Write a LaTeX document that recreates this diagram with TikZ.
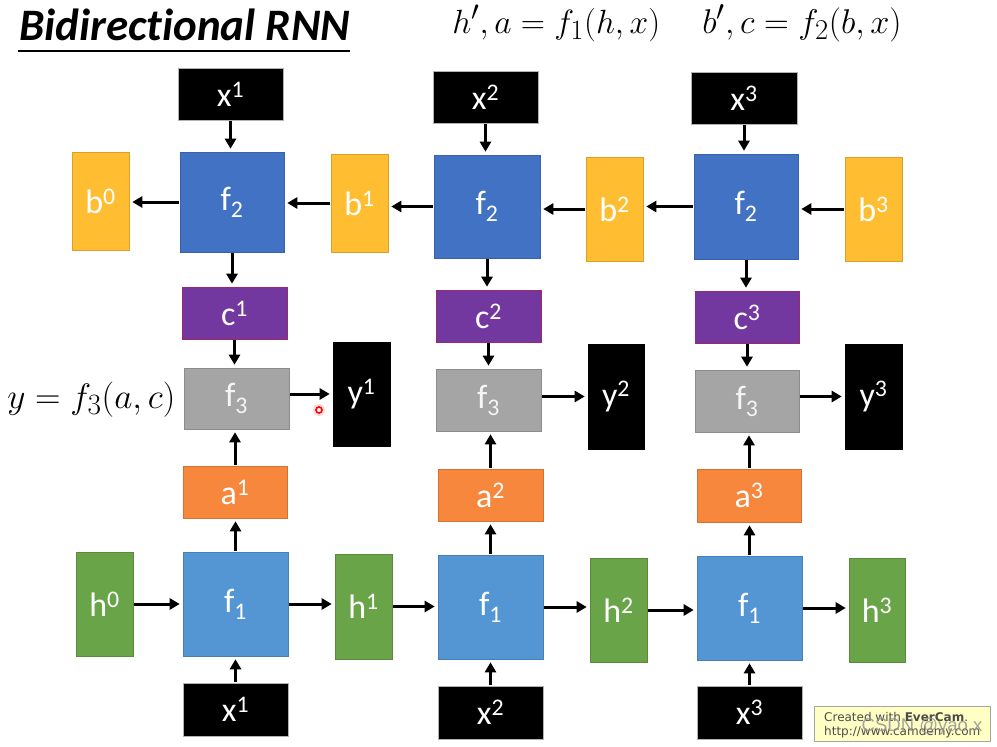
\documentclass[tikz,border=0pt]{standalone}
\usepackage[no-math]{fontspec}
\setmainfont{Carlito}[Ligatures=NoCommon]
\newfontfamily\wmfont{DejaVu Sans}
\newfontfamily\csdnfont{Liberation Sans}
\usetikzlibrary{arrows.meta}
\definecolor{ftwoc}{RGB}{66,114,196}
\definecolor{fonec}{RGB}{84,150,212}
\definecolor{fthreec}{RGB}{165,165,165}
\definecolor{bcol}{RGB}{255,190,50}
\definecolor{ccol}{RGB}{115,56,160}
\definecolor{acol}{RGB}{247,135,60}
\definecolor{hcol}{RGB}{106,164,72}
\definecolor{wmyellow}{RGB}{255,255,196}
\newcommand\boxfont{\fontsize{34}{34}\selectfont}
\newcommand\eqfont{\fontsize{24.88}{28}\selectfont}
\tikzset{
  cell/.style={rectangle, inner sep=0pt, line width=0.6pt, text=white, font=\boxfont},
  blk/.style={cell, fill=black, draw=gray!60},
  yblk/.style={cell, fill=black, draw=black},
  ftwo/.style={cell, fill=ftwoc, draw=ftwoc!85!black},
  fone/.style={cell, fill=fonec, draw=fonec!85!black},
  fthree/.style={cell, fill=fthreec, draw=fthreec!85!black, text=gray!8},
  bst/.style={cell, fill=bcol, draw=bcol!85!black},
  cst/.style={cell, fill=ccol, draw=ccol!70!red},
  ast/.style={cell, fill=acol, draw=acol!85!black},
  hst/.style={cell, fill=hcol, draw=hcol!85!black},
  eq/.style={anchor=base west, inner sep=0pt, font=\eqfont},
  arr/.style={line width=3pt, -{Triangle[length=10pt,width=11pt]}, shorten >=3pt, shorten <=1pt},
}
\begin{document}
\begin{tikzpicture}[x=1pt,y=-1pt]
\useasboundingbox (0,0) rectangle (997,747);
\fill[white] (0,0) rectangle (997,747);
% title and formulas
\node[anchor=base west, inner sep=0pt, font=\fontsize{45}{45}\selectfont\bfseries\itshape] (title) at (19,40) {Bidirectional RNN};
\draw[line width=2pt] (18,51) -- (350,51);
\node[eq, scale=1.35] (eqone) at (452,33) {$h', a = f_1(h, x)$};
\node[eq, scale=1.38] (eqtwo) at (702,33) {$b', c = f_2(b, x)$};
\node[eq, scale=1.42] (eqthree) at (7,408) {$y = f_3(a, c)$};
% column 1
\node[blk, minimum width=105pt, minimum height=52pt] (xt1) at (230.5,94) {x\textsuperscript{1}};
\node[ftwo, minimum width=104pt, minimum height=100pt] (ft1) at (232,202) {f\textsubscript{2}};
\node[cst, minimum width=105pt, minimum height=52pt] (c1) at (234.5,313) {c\textsuperscript{1}};
\node[fthree, minimum width=105pt, minimum height=61pt] (fh1) at (236.5,398.5) {f\textsubscript{3}};
\node[ast, minimum width=104pt, minimum height=52pt] (a1) at (235,492) {a\textsuperscript{1}};
\node[fone, minimum width=105pt, minimum height=104pt] (fo1) at (235.5,604) {f\textsubscript{1}};
\node[blk, minimum width=105pt, minimum height=53pt] (xb1) at (235.5,709.5) {x\textsuperscript{1}};
\node[bst, minimum width=57pt, minimum height=98pt] (b0) at (100.5,201) {b\textsuperscript{0}};
\node[bst, minimum width=57pt, minimum height=98pt] (b1) at (359.5,203) {b\textsuperscript{1}};
\node[yblk, minimum width=57pt, minimum height=104pt] (y1) at (361.5,394) {y\textsuperscript{1}};
\node[hst, minimum width=57pt, minimum height=104pt] (h0) at (104.5,604) {h\textsuperscript{0}};
\node[hst, minimum width=57pt, minimum height=105pt] (h1) at (363.5,606.5) {h\textsuperscript{1}};
% column 2
\node[blk, minimum width=105pt, minimum height=52pt] (xt2) at (485.5,97) {x\textsuperscript{2}};
\node[ftwo, minimum width=106pt, minimum height=103pt] (ft2) at (487,206.5) {f\textsubscript{2}};
\node[cst, minimum width=105pt, minimum height=52pt] (c2) at (488.5,316) {c\textsuperscript{2}};
\node[fthree, minimum width=105pt, minimum height=62pt] (fh2) at (488.5,400) {f\textsubscript{3}};
\node[ast, minimum width=105pt, minimum height=52pt] (a2) at (490.5,495) {a\textsuperscript{2}};
\node[fone, minimum width=105pt, minimum height=104pt] (fo2) at (490.5,607) {f\textsubscript{1}};
\node[blk, minimum width=105pt, minimum height=53pt] (xb2) at (490.5,712.5) {x\textsuperscript{2}};
\node[bst, minimum width=57pt, minimum height=104pt] (b2) at (614.5,209) {b\textsuperscript{2}};
\node[yblk, minimum width=56pt, minimum height=105pt] (y2) at (616,396.5) {y\textsuperscript{2}};
\node[hst, minimum width=57pt, minimum height=104pt] (h2) at (618.5,610) {h\textsuperscript{2}};
% column 3
\node[blk, minimum width=106pt, minimum height=52pt] (xt3) at (744,98) {x\textsuperscript{3}};
\node[ftwo, minimum width=104pt, minimum height=105pt] (ft3) at (746,206.5) {f\textsubscript{2}};
\node[cst, minimum width=104pt, minimum height=52pt] (c3) at (747,317) {c\textsuperscript{3}};
\node[fthree, minimum width=104pt, minimum height=62pt] (fh3) at (747,401) {f\textsubscript{3}};
\node[ast, minimum width=104pt, minimum height=53pt] (a3) at (749,495.5) {a\textsuperscript{3}};
\node[fone, minimum width=105pt, minimum height=104pt] (fo3) at (749.5,608) {f\textsubscript{1}};
\node[blk, minimum width=105pt, minimum height=53pt] (xb3) at (749.5,712.5) {x\textsuperscript{3}};
\node[bst, minimum width=57pt, minimum height=104pt] (b3) at (873.5,209) {b\textsuperscript{3}};
\node[yblk, minimum width=57pt, minimum height=105pt] (y3) at (873.5,396.5) {y\textsuperscript{3}};
\node[hst, minimum width=56pt, minimum height=104pt] (h3) at (877,610) {h\textsuperscript{3}};
% vertical arrows
\foreach \i in {1,2,3}{
  \draw[arr] (xt\i.south) -- (xt\i.south |- ft\i.north);
  \draw[arr] (ft\i.south) -- (ft\i.south |- c\i.north);
  \draw[arr] (c\i.south) -- (c\i.south |- fh\i.north);
  \draw[arr] (a\i.north) -- (a\i.north |- fh\i.south);
  \draw[arr] (fo\i.north) -- (fo\i.north |- a\i.south);
  \draw[arr] (xb\i.north) -- (xb\i.north |- fo\i.south);
  \draw[arr] (fh\i.east |- y\i.west) -- (y\i.west);
}
% backward chain
\draw[arr] (ft1.west) -- (ft1.west -| b0.east);
\draw[arr] (b1.west) -- (b1.west -| ft1.east);
\draw[arr] (ft2.west) -- (ft2.west -| b1.east);
\draw[arr] (b2.west) -- (b2.west -| ft2.east);
\draw[arr] (ft3.west) -- (ft3.west -| b2.east);
\draw[arr] (b3.west) -- (b3.west -| ft3.east);
% forward chain
\draw[arr] (h0.east) -- (h0.east -| fo1.west);
\draw[arr] (fo1.east) -- (fo1.east -| h1.west);
\draw[arr] (h1.east) -- (h1.east -| fo2.west);
\draw[arr] (fo2.east) -- (fo2.east -| h2.west);
\draw[arr] (h2.east) -- (h2.east -| fo3.west);
\draw[arr] (fo3.east) -- (fo3.east -| h3.west);
% cursor mark
\fill[red!25, opacity=0.6] (319,410) circle (6pt);
\draw[red, line width=1.6pt, fill=white] (319,410) circle (3pt);
% watermark
\node[draw=gray!70, fill=wmyellow, line width=0.8pt, minimum width=176pt, minimum height=35pt, inner sep=0pt] (wm) at (902,723.5) {};
\node[anchor=base west, inner sep=0pt, font=\wmfont\fontsize{12}{13}\selectfont, text=gray!60!black] (wma) at (824,721) {Created with \textbf{EverCam}.};
\node[anchor=base west, inner sep=0pt, font=\wmfont\fontsize{12}{13}\selectfont, text=gray!60!black] (wmb) at (824,735) {http://www.camdemy.com};
\node[inner sep=0pt, font=\csdnfont\fontsize{18.5}{19}\selectfont, text=gray!85, opacity=0.85] (wmc) at (922,727) {CSDN @yao.x};
\end{tikzpicture}
\end{document}
